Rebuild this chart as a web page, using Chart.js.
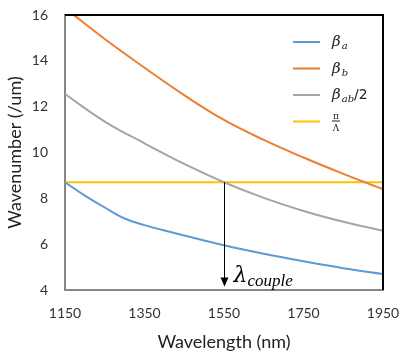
<!DOCTYPE html>
<html>
<head>
<meta charset="utf-8">
<script src="https://cdn.jsdelivr.net/npm/chart.js@4"></script>
<style>
  html, body { margin: 0; padding: 0; background: #fff; }
  #wrap { width: 401px; height: 357px; }
</style>
</head>
<body>
<div id="wrap"><canvas id="chart" width="401" height="357"></canvas></div>
<script>
// wavelengths (nm)
const wavelengths = [1150, 1250, 1350, 1450, 1550, 1650, 1750, 1850, 1950];
const blueWavelengths = [1150, 1200, 1250, 1300, 1350, 1450, 1550, 1650, 1750, 1850, 1950];
const betaA  = [8.7, 8.12, 7.6, 7.12, 6.83, 6.38, 5.95, 5.58, 5.25, 4.95, 4.7];
const betaB  = [16.3, 14.95, 13.7, 12.5, 11.42, 10.55, 9.78, 9.07, 8.4];
const betaAB = [12.55, 11.35, 10.4, 9.5, 8.7, 8.02, 7.45, 6.98, 6.58];
const gratingX = [1150, 1950];
const gratingY = [8.7, 8.7];
const coupleWavelength = 1550;
const coupleValue = 8.7;
const arrowEnd = 4.15;
const xTicks = [1150, 1350, 1550, 1750, 1950];
const yTicks = [4, 6, 8, 10, 12, 14, 16];

function pts(xs, ys) {
    return xs.map((x, i) => ({ x: x, y: ys[i] }));
}

const FONT = 'Lato, "Open Sans", sans-serif';

// frame on top and right, arrow, custom legend
const extras = {
    id: 'extras',
    afterDatasetsDraw(chart) {
        const ctx = chart.ctx;
        const a = chart.chartArea;
        const sx = chart.scales.x, sy = chart.scales.y;
        ctx.save();

        // top/right frame
        ctx.strokeStyle = '#000';
        ctx.lineWidth = 2;
        ctx.beginPath();
        ctx.moveTo(a.left, a.top);
        ctx.lineTo(a.right, a.top);
        ctx.lineTo(a.right, a.bottom);
        ctx.stroke();

        // arrow
        const ax = Math.round(sx.getPixelForValue(coupleWavelength)) + 0.5;
        const ay1 = sy.getPixelForValue(coupleValue);
        const ay2 = sy.getPixelForValue(arrowEnd);
        ctx.lineWidth = 1;
        ctx.beginPath();
        ctx.moveTo(ax, ay1);
        ctx.lineTo(ax, ay2 - 8);
        ctx.stroke();
        ctx.fillStyle = '#000';
        ctx.beginPath();
        ctx.moveTo(ax - 4, ay2 - 9);
        ctx.lineTo(ax + 4, ay2 - 9);
        ctx.lineTo(ax, ay2);
        ctx.closePath();
        ctx.fill();

        // lambda label
        ctx.textBaseline = 'alphabetic';
        ctx.textAlign = 'left';
        ctx.font = 'italic 22px "DejaVu Serif", serif';
        ctx.fillText('\u03bb', ax + 9, ay2 - 5);
        ctx.font = 'italic 17px "Liberation Serif", serif';
        ctx.fillText('couple', ax + 23, ay2 - 1);

        // legend
        const items = [
            { color: '#5B9BD5', main: '\u03b2', sub: 'a', tail: '' },
            { color: '#ED7D31', main: '\u03b2', sub: 'b', tail: '' },
            { color: '#A5A5A5', main: '\u03b2', sub: 'ab', tail: '/2' },
            { color: '#FFC000', frac: true }
        ];
        const lx1 = a.right - 90, lx2 = a.right - 63, tx = a.right - 51;
        items.forEach((it, i) => {
            const ly = a.top + 27 + i * 26.5;
            ctx.strokeStyle = it.color;
            ctx.lineWidth = 2;
            ctx.beginPath();
            ctx.moveTo(lx1, ly);
            ctx.lineTo(lx2, ly);
            ctx.stroke();
            ctx.fillStyle = '#222';
            if (it.frac) {
                ctx.textAlign = 'center';
                ctx.font = '9px "DejaVu Serif", serif';
                ctx.fillText('\u03c0', tx + 4, ly - 3);
                ctx.fillRect(tx, ly - 1, 8, 1);
                ctx.fillText('\u039b', tx + 4, ly + 9);
                ctx.textAlign = 'left';
            } else {
                ctx.font = 'italic 15px "DejaVu Serif", serif';
                ctx.fillText(it.main, tx, ly + 4);
                let w = ctx.measureText(it.main).width;
                ctx.font = 'italic 10px "DejaVu Serif", serif';
                ctx.fillText(it.sub, tx + w + 1, ly + 7);
                w += ctx.measureText(it.sub).width + 1;
                if (it.tail) {
                    ctx.font = '14px "DejaVu Sans", sans-serif';
                    ctx.fillText(it.tail, tx + w, ly + 4);
                }
            }
        });
        ctx.restore();
    }
};

function line(data, color) {
    return {
        data: data,
        borderColor: color,
        backgroundColor: color,
        borderWidth: 2,
        pointRadius: 0,
        tension: 0.4,
        fill: false
    };
}

new Chart(document.getElementById('chart').getContext('2d'), {
    type: 'line',
    data: {
        datasets: [
            line(pts(blueWavelengths, betaA), '#5B9BD5'),
            line(pts(wavelengths, betaB), '#ED7D31'),
            line(pts(wavelengths, betaAB), '#A5A5A5'),
            line(pts(gratingX, gratingY), '#FFC000')
        ]
    },
    options: {
        responsive: false,
        animation: false,
        layout: { padding: { top: 15, right: 18, left: 0, bottom: 0 } },
        plugins: {
            legend: { display: false },
            tooltip: { enabled: false }
        },
        scales: {
            x: {
                type: 'linear',
                min: 1150,
                max: 1950,
                afterBuildTicks: s => { s.ticks = xTicks.map(v => ({ value: v })); },
                afterFit: s => { s.height = 67; s.paddingLeft = 0; s.paddingRight = 0; },
                grid: { display: false, drawTicks: false },
                border: { color: '#868686', width: 2 },
                ticks: { font: { family: FONT, size: 14 }, color: '#333', padding: 15, callback: v => String(v) },
                title: { display: true, text: 'Wavelength (nm)', font: { family: FONT, size: 18 }, color: '#222', padding: { top: 2 } }
            },
            y: {
                min: 4,
                max: 16,
                afterBuildTicks: s => { s.ticks = yTicks.map(v => ({ value: v })); },
                afterFit: s => { s.width = 65; s.paddingTop = 0; s.paddingBottom = 0; },
                grid: { display: false, drawTicks: false },
                border: { color: '#868686', width: 2 },
                ticks: { font: { family: FONT, size: 14 }, color: '#333', padding: 17, callback: v => String(v) },
                title: { display: true, text: 'Wavenumber (/um)', font: { family: FONT, size: 18 }, color: '#222', padding: { bottom: 0 } }
            }
        }
    },
    plugins: [extras]
});
</script>
</body>
</html>
